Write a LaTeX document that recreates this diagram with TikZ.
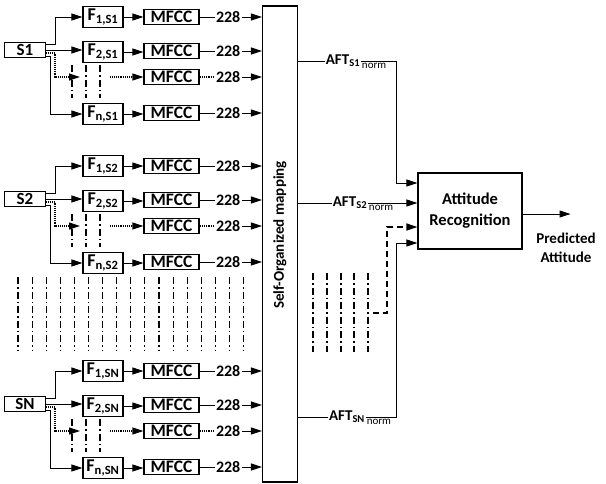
\documentclass[tikz,border=0pt]{standalone}
\usepackage{fontspec}
\setmainfont{Carlito}
\usetikzlibrary{arrows.meta,positioning}

\tikzset{
  blk/.style={draw, line width=1.1pt, inner sep=0pt},
  srcbox/.style={blk, minimum width=41pt, minimum height=15pt, font=\bfseries\fontsize{17}{18}\selectfont},
  frmbox/.style={blk, minimum width=40pt, minimum height=21pt, font=\bfseries\fontsize{18}{18}\selectfont},
  mfccbox/.style={blk, minimum width=55pt, minimum height=15pt, font=\bfseries\fontsize{17.5}{16}\selectfont},
  dimlab/.style={inner sep=1pt, font=\bfseries\fontsize{16}{16}\selectfont},
  aftlab/.style={fill=white, inner sep=1pt, font=\bfseries\fontsize{15}{16}\selectfont},
  normlab/.style={inner sep=0pt, font=\fontsize{11}{12}\selectfont},
  arr/.style={line width=0.9pt, -{Triangle[length=11pt,width=7pt]}},
  dotarr/.style={arr, densely dotted, line width=1.2pt},
  dashdot/.style={line width=1.1pt, dash pattern=on 7pt off 3pt on 1.5pt off 3pt},
}

\begin{document}
\begin{tikzpicture}[x=1pt,y=-1pt, line width=0.9pt]
  \useasboundingbox (0,0) rectangle (606,483);

  % self-organized mapping block
  \node[blk, minimum width=35pt, minimum height=476pt] (som) at (280,244) {};
  \node[rotate=90, font=\bfseries\fontsize{15}{16}\selectfont] (somlab) at (280,235) {Self-Organized mapping};

  % one group per speaker
  \foreach \g/\dy in {1/0, 2/149, N/354} {
    \node[srcbox] (s\g) at (25,50+\dy) {S\g};
    \node[frmbox] (fa\g) at (103,17+\dy) {F\textsubscript{1,S\g}};
    \node[frmbox] (fb\g) at (103,52+\dy) {F\textsubscript{2,S\g}};
    \node[frmbox] (fn\g) at (103,114+\dy) {F\textsubscript{n,S\g}};
    \node[mfccbox] (ma\g) at (171.5,17+\dy) {MFCC};
    \node[mfccbox] (mb\g) at (171.5,51+\dy) {MFCC};
    \node[mfccbox] (mc\g) at (171.5,77+\dy) {MFCC};
    \node[mfccbox] (mn\g) at (171.5,113+\dy) {MFCC};
    \foreach \r in {a,b,c,n}
      \node[dimlab, right=15pt of m\r\g] (n\r\g) {228};
    \coordinate (dc\g) at (80,77+\dy);
    \coordinate (dd\g) at (110,77+\dy);

    \draw[arr] ([yshift=6pt]s\g.east) -- ++(9,0) |- (fa\g.west);
    \draw[arr] (s\g.east) -- (s\g.east -| fb\g.west);
    \draw[dotarr] ([yshift=-3pt]s\g.east) -- ++(9,0) |- (dc\g);
    \draw[arr] ([yshift=-6pt]s\g.east) -- ++(4,0) |- (fn\g.west);
    \foreach \x in {72,86,100}
      \draw[dashdot] (\x,65+\dy) -- (\x,98+\dy);

    \draw[arr] (fa\g) -- (ma\g);
    \draw[arr] (fb\g.east) -- (fb\g.east -| mb\g.west);
    \draw[dotarr] (dd\g) -- (mc\g.west);
    \draw[arr] (fn\g.east) -- (fn\g.east -| mn\g.west);

    \draw (ma\g) -- (na\g);
    \draw (mb\g) -- (nb\g);
    \draw[densely dotted, line width=1.2pt] (mc\g) -- (nc\g);
    \draw (mn\g) -- (nn\g);
    \foreach \r in {a,b,c,n}
      \draw[arr] (n\r\g) -- (n\r\g -| som.west);
  }

  % skipped speakers
  \foreach \i in {0,...,16}
    \draw[dashdot] ({18+14.1*\i},277) -- ++(0,73);
  \foreach \x in {313,327,341,354,368}
    \draw[dashdot] (\x,273) -- (\x,352);

  % recognizer
  \node[blk, minimum width=104pt, minimum height=76pt, align=center,
        font=\bfseries\fontsize{16.5}{21}\selectfont] (att) at (470,211) {Attitude\\Recognition};
  \node[align=center, font=\bfseries\fontsize{15}{19}\selectfont] (pred) at (566,248) {Predicted\\Attitude};

  \coordinate (k1) at (396,183);
  \coordinate (k3) at (387,313);
  \coordinate (k4) at (396,243);

  \draw[arr] (som.east |- 0,61) -| (k1) -- (att.west |- k1);
  \draw[arr] (som.east |- 0,203) -- (att.west |- 0,203);
  \draw[arr, line width=1.4pt, dash pattern=on 6pt off 4pt] (373,313) -- (k3) |- (att.west |- 0,227);
  \draw[arr] (som.east |- 0,417) -| (k4) -- (att.west |- k4);
  \draw[arr] ([yshift=-3pt]att.east) -- ++(48,0);

  \node[aftlab] (a1) at (343,61) {AFT\textsubscript{S1}};
  \node[normlab, anchor=north west] at ([yshift=-2pt]a1.east) {norm};
  \node[aftlab] (a2) at (350,203) {AFT\textsubscript{S2}};
  \node[normlab, anchor=north west] at ([yshift=-2pt]a2.east) {norm};
  \node[aftlab] (aN) at (347,417) {AFT\textsubscript{SN}};
  \node[normlab, anchor=north west] at ([yshift=-2pt]aN.east) {norm};
\end{tikzpicture}
\end{document}
